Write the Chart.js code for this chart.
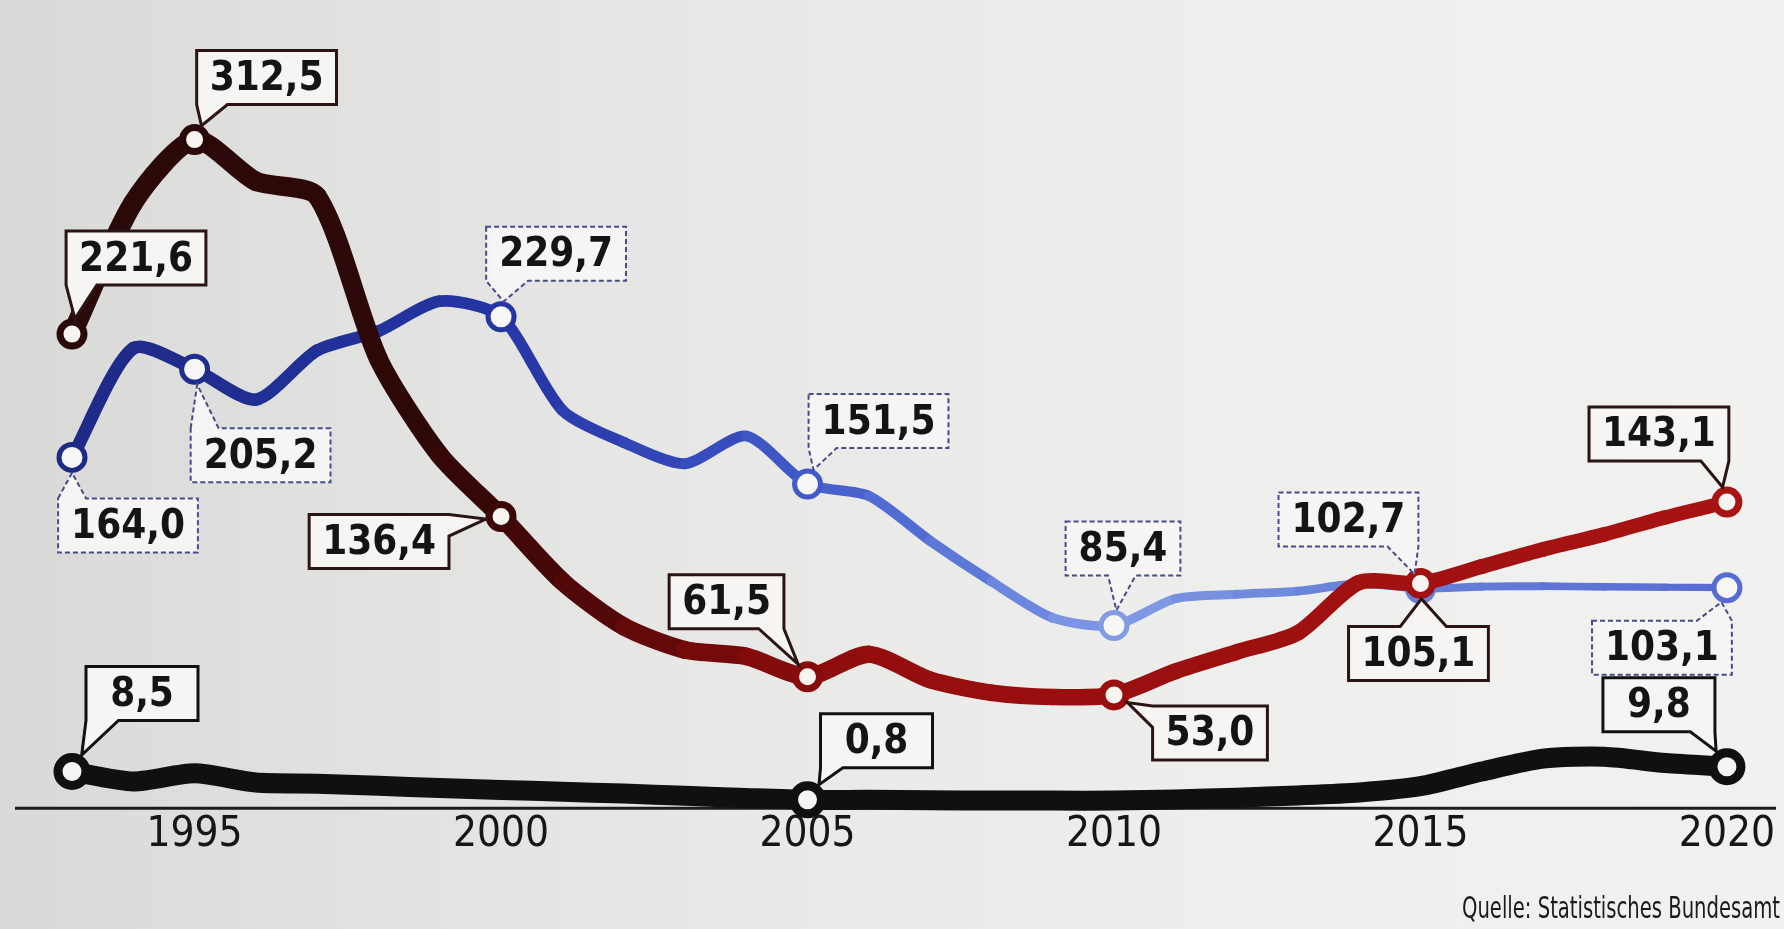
<!DOCTYPE html>
<html lang="de">
<head>
<meta charset="utf-8">
<title>Statistisches Bundesamt</title>
<script src="https://cdn.jsdelivr.net/npm/chart.js@4.4.1/dist/chart.umd.min.js"></script>
<style>
    html, body { margin: 0; padding: 0; overflow: hidden; }
    body {
        width: 1784px; height: 929px;
        background: linear-gradient(90deg, #d9d9d7 0%, #e2e2e0 22%, #eaeae8 48%, #efefed 75%, #f1f1ef 100%);
    }
    #wrap { position: relative; width: 1784px; height: 929px; }
</style>
</head>
<body>
<div id="wrap"><canvas id="chart"></canvas></div>
<script>
"use strict";

/* data */
var years = [1993, 1994, 1995, 1996, 1997, 1998, 1999, 2000, 2001, 2002, 2003, 2004, 2005, 2006,
             2007, 2008, 2009, 2010, 2011, 2012, 2013, 2014, 2015, 2016, 2017, 2018, 2019, 2020];
var tickYears = [1995, 2000, 2005, 2010, 2015, 2020];

var redValues = [221.6, 283, 312.5, 293, 286, 210, 165, 136.4, 106, 85, 74, 71, 61.5, 72,
                 60, 54, 52, 53.0, 64, 73, 82, 105.5, 105.1, 113, 121, 128, 136, 143.1];
var blueValues = [164.0, 215, 205.2, 191, 214, 223, 237, 229.7, 186, 171, 161, 174, 151.5, 146,
                  125, 106, 89, 85.4, 98, 100, 101.5, 105, 102.7, 103.6, 103.8, 103.5, 103.3, 103.1];
var blackValues = [8.5, 5.8, 8.0, 5.5, 5.2, 4.6, 4.0, 3.5, 3.0, 2.5, 1.9, 1.3, 0.8, 0.8,
                   0.7, 0.6, 0.6, 0.6, 0.9, 1.4, 2.0, 2.8, 4.5, 8.5, 12.0, 12.5, 10.8, 9.8];

var redMarked = [1993, 1995, 2000, 2005, 2010, 2015, 2020];
var blueMarked = [1993, 1995, 2000, 2005, 2010, 2015, 2020];
var blackMarked = [1993, 2005, 2020];

var sourceText = 'Quelle: Statistisches Bundesamt';

/* styles */
var redStops = [[1993, '#2a0909'], [1999, '#2e0707'], [2001, '#4a0707'], [2004, '#7c0b0b'], [2006, '#940d0d'], [2020, '#a81313']];
var blueStops = [[1993, '#1d2a86'], [2000, '#2535a4'], [2004, '#3a50c2'], [2007, '#5672d6'], [2010, '#829ce4'], [2013, '#6c86dc'], [2020, '#566cd2']];
var labelFont = 'bold 40px "DejaVu Sans Condensed", "Liberation Sans Narrow", "DejaVu Sans", sans-serif';
var axisFont = '"Liberation Sans Narrow", "DejaVu Sans Condensed", "Liberation Sans", sans-serif';

function hexRgb(h) {
    return [parseInt(h.substr(1, 2), 16), parseInt(h.substr(3, 2), 16), parseInt(h.substr(5, 2), 16)];
}
function colorAt(stops, year) {
    if (year <= stops[0][0]) return stops[0][1];
    for (var i = 1; i < stops.length; i++) {
        if (year <= stops[i][0]) {
            var t = (year - stops[i - 1][0]) / (stops[i][0] - stops[i - 1][0]);
            var a = hexRgb(stops[i - 1][1]), b = hexRgb(stops[i][1]);
            return 'rgb(' + Math.round(a[0] + (b[0] - a[0]) * t) + ',' +
                Math.round(a[1] + (b[1] - a[1]) * t) + ',' + Math.round(a[2] + (b[2] - a[2]) * t) + ')';
        }
    }
    return stops[stops.length - 1][1];
}
function widthAt(from, to, idx) {
    return from + (to - from) * idx / (years.length - 1);
}

/* callout boxes: offset of box centre from its point, and where the pointer leaves the box */
var callouts = [
    { ds: 0, year: 1993, dx: 64, dy: -76, edge: 'bottom', a: 0, b: 0.22 },
    { ds: 0, year: 1995, dx: 72, dy: -62, edge: 'bottom', a: 0, b: 0.22 },
    { ds: 0, year: 2000, dx: -122, dy: 25, edge: 'right', a: 0, b: 0.4 },
    { ds: 0, year: 2005, dx: -81, dy: -75, edge: 'bottom', a: 0.78, b: 1 },
    { ds: 0, year: 2010, dx: 96, dy: 38, edge: 'left', a: 0, b: 0.4 },
    { ds: 0, year: 2015, dx: -2, dy: 70, edge: 'top', a: 0.37, b: 0.7 },
    { ds: 0, year: 2020, dx: -68, dy: -68, edge: 'bottom', a: 0.8, b: 1 },
    { ds: 1, year: 1993, dx: 56, dy: 68, edge: 'top', a: 0, b: 0.2 },
    { ds: 1, year: 1995, dx: 66, dy: 86, edge: 'top', a: 0, b: 0.2 },
    { ds: 1, year: 2000, dx: 55, dy: -63, edge: 'bottom', a: 0, b: 0.3 },
    { ds: 1, year: 2005, dx: 71, dy: -63, edge: 'bottom', a: 0, b: 0.2 },
    { ds: 1, year: 2010, dx: 9, dy: -77, edge: 'bottom', a: 0.37, b: 0.61 },
    { ds: 1, year: 2015, dx: -72, dy: -69, edge: 'bottom', a: 0.78, b: 1 },
    { ds: 1, year: 2020, dx: -65, dy: 60, edge: 'top', a: 0.75, b: 1 },
    { ds: 2, year: 1993, dx: 70, dy: -78, edge: 'bottom', a: 0, b: 0.29 },
    { ds: 2, year: 2005, dx: 69, dy: -59, edge: 'bottom', a: 0, b: 0.2 },
    { ds: 2, year: 2020, dx: -68, dy: -62, edge: 'bottom', a: 0.78, b: 1 }
];
var calloutStyle = [
    { stroke: '#2a1414', width: 3, dash: [], rOut: 15.5 },
    { stroke: '#454c8c', width: 2, dash: [5, 3], rOut: 15.5 },
    { stroke: '#111111', width: 3, dash: [], rOut: 19 }
];

function boxPath(ctx, x0, y0, x1, y1, c, tip) {
    var w = x1 - x0, h = y1 - y0;
    var pts = [[x0, y0]];
    if (c.edge === 'top') pts.push([x0 + c.a * w, y0], tip, [x0 + c.b * w, y0]);
    pts.push([x1, y0]);
    if (c.edge === 'right') pts.push([x1, y0 + c.a * h], tip, [x1, y0 + c.b * h]);
    pts.push([x1, y1]);
    if (c.edge === 'bottom') pts.push([x0 + c.b * w, y1], tip, [x0 + c.a * w, y1]);
    pts.push([x0, y1]);
    if (c.edge === 'left') pts.push([x0, y0 + c.b * h], tip, [x0, y0 + c.a * h]);
    ctx.beginPath();
    ctx.moveTo(pts[0][0], pts[0][1]);
    for (var i = 1; i < pts.length; i++) ctx.lineTo(pts[i][0], pts[i][1]);
    ctx.closePath();
}
function tailBase(x0, y0, x1, y1, c) {
    var w = x1 - x0, h = y1 - y0, f = (c.a + c.b) / 2;
    if (c.edge === 'top') return [x0 + f * w, y0];
    if (c.edge === 'bottom') return [x0 + f * w, y1];
    if (c.edge === 'left') return [x0, y0 + f * h];
    return [x1, y0 + f * h];
}

var calloutPlugin = {
    id: 'callouts',
    afterDatasetsDraw: function (chart) {
        var ctx = chart.ctx;
        ctx.save();
        ctx.font = labelFont;
        callouts.forEach(function (c) {
            var idx = years.indexOf(c.year);
            var pt = chart.getDatasetMeta(c.ds).data[idx];
            var value = chart.data.datasets[c.ds].data[idx];
            var text = value.toFixed(1).replace('.', ',');
            var st = calloutStyle[c.ds];
            var bw = Math.max(ctx.measureText(text).width + 26, 112), bh = 54;
            var cx = pt.x + c.dx, cy = pt.y + c.dy;
            var x0 = cx - bw / 2, y0 = cy - bh / 2, x1 = cx + bw / 2, y1 = cy + bh / 2;
            var m = tailBase(x0, y0, x1, y1, c);
            var vx = m[0] - pt.x, vy = m[1] - pt.y, len = Math.sqrt(vx * vx + vy * vy);
            var tip = [pt.x + vx / len * st.rOut, pt.y + vy / len * st.rOut];
            boxPath(ctx, x0, y0, x1, y1, c, tip);
            ctx.fillStyle = '#f6f5f3';
            ctx.fill();
            ctx.setLineDash(st.dash);
            ctx.lineWidth = st.width;
            ctx.strokeStyle = st.stroke;
            ctx.lineJoin = 'miter';
            ctx.stroke();
            ctx.setLineDash([]);
            ctx.fillStyle = '#141414';
            ctx.textAlign = 'center';
            ctx.textBaseline = 'middle';
            ctx.fillText(text, cx, cy + 2);
        });
        ctx.restore();
    }
};

var baselinePlugin = {
    id: 'baseline',
    beforeDatasetsDraw: function (chart) {
        var ctx = chart.ctx;
        var y = chart.scales.y.getPixelForValue(0);
        ctx.save();
        ctx.strokeStyle = '#1c1c1c';
        ctx.lineWidth = 3;
        ctx.beginPath();
        ctx.moveTo(15, y);
        ctx.lineTo(1776, y);
        ctx.stroke();
        ctx.restore();
    }
};

var sourcePlugin = {
    id: 'source',
    afterDraw: function (chart) {
        var ctx = chart.ctx;
        ctx.save();
        ctx.font = '31px ' + axisFont;
        ctx.fillStyle = '#1a1a1a';
        ctx.textAlign = 'right';
        ctx.textBaseline = 'alphabetic';
        ctx.fillText(sourceText, 1780, 918, 318);
        ctx.restore();
    }
};

function markerRadius(marked, r) {
    return function (ctx) { return marked.indexOf(years[ctx.dataIndex]) >= 0 ? r : 0; };
}

var ctxChart = document.getElementById('chart').getContext('2d');

var config = {
    type: 'line',
    data: {
        labels: years,
        datasets: [{
            label: 'rot',
            data: redValues,
            yAxisID: 'y',
            clip: false,
            tension: 0.25,
            borderCapStyle: 'round',
            borderJoinStyle: 'round',
            segment: {
                borderColor: function (ctx) { return colorAt(redStops, years[ctx.p0DataIndex] + 0.5); },
                borderWidth: function (ctx) { return widthAt(20, 14, ctx.p0DataIndex); }
            },
            pointRadius: markerRadius(redMarked, 12),
            pointHoverRadius: markerRadius(redMarked, 12),
            pointBorderWidth: 7,
            pointBackgroundColor: '#f7f5f2',
            pointBorderColor: function (ctx) { return colorAt(redStops, years[ctx.dataIndex]); }
        },
        {
            label: 'blau',
            data: blueValues,
            yAxisID: 'y',
            clip: false,
            tension: 0.25,
            borderCapStyle: 'round',
            borderJoinStyle: 'round',
            segment: {
                borderColor: function (ctx) { return colorAt(blueStops, years[ctx.p0DataIndex] + 0.5); },
                borderWidth: function (ctx) { return widthAt(13, 7, ctx.p0DataIndex); }
            },
            pointRadius: markerRadius(blueMarked, 13),
            pointHoverRadius: markerRadius(blueMarked, 13),
            pointBorderWidth: 5,
            pointBackgroundColor: '#f7f7f7',
            pointBorderColor: function (ctx) { return colorAt(blueStops, years[ctx.dataIndex]); }
        },
        {
            label: 'schwarz',
            data: blackValues,
            yAxisID: 'y2',
            clip: false,
            tension: 0.25,
            borderCapStyle: 'round',
            borderJoinStyle: 'round',
            borderColor: '#101010',
            borderWidth: 20,
            pointRadius: markerRadius(blackMarked, 14),
            pointHoverRadius: markerRadius(blackMarked, 14),
            pointBorderWidth: 9,
            pointBackgroundColor: '#f5f5f3',
            pointBorderColor: '#101010'
        }]
    },
    options: {
        animation: false,
        responsive: true,
        maintainAspectRatio: false,
        events: [],
        layout: { padding: { left: 72, right: 54, top: 0, bottom: 67 } },
        plugins: {
            legend: { display: false },
            tooltip: { enabled: false }
        },
        scales: {
            x: {
                type: 'category',
                grid: { display: false, drawTicks: false },
                border: { display: false },
                ticks: {
                    autoSkip: false,
                    maxRotation: 0,
                    padding: 9,
                    color: '#161616',
                    font: { family: axisFont, size: 42, lineHeight: 0.85 },
                    callback: function (val, i) {
                        return tickYears.indexOf(years[i]) >= 0 ? String(years[i]) : '';
                    }
                }
            },
            y: { display: false, min: 0, max: 367 },
            y2: { display: false, min: -1.5, max: 212 }
        }
    },
    plugins: [baselinePlugin, calloutPlugin, sourcePlugin]
};

var myChart = new Chart(ctxChart, config);
</script>
</body>
</html>
